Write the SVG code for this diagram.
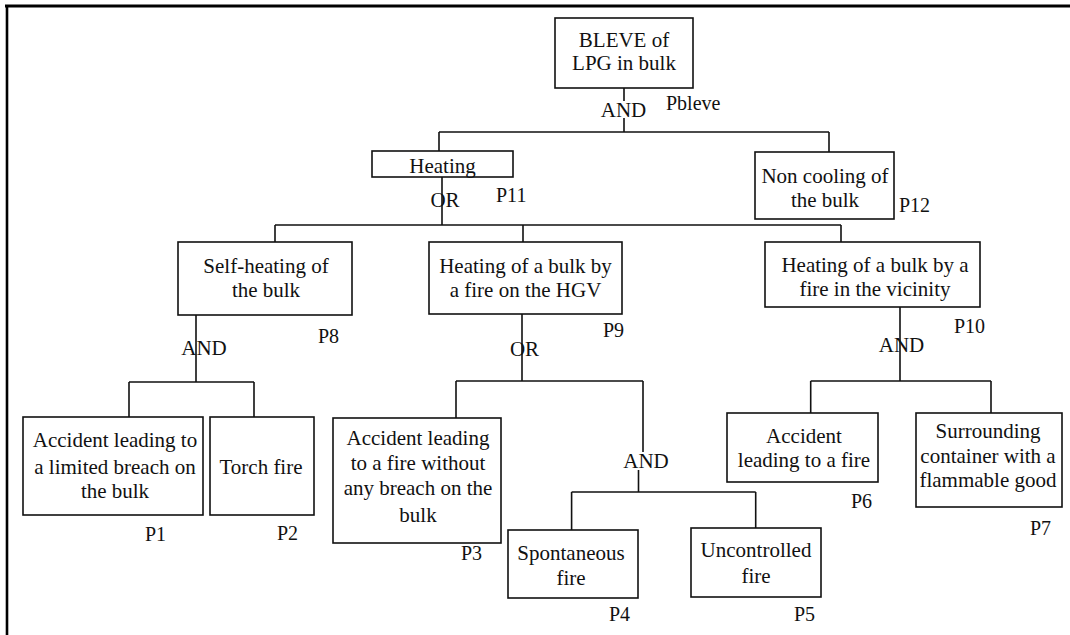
<svg xmlns="http://www.w3.org/2000/svg" width="1070" height="635" viewBox="0 0 1070 635">
<style>
.box{fill:#fff;stroke:#111;stroke-width:1.6}
.t{font-family:"Liberation Serif","Times New Roman",serif;font-size:21px;fill:#111;text-anchor:middle}
.p{font-family:"Liberation Serif","Times New Roman",serif;font-size:20px;fill:#111}
.g{font-family:"Liberation Serif","Times New Roman",serif;font-size:21px;fill:#111;text-anchor:middle}
.c{fill:none;stroke:#111;stroke-width:1.6}
.frame{fill:none;stroke:#000}
</style>
<rect width="1070" height="635" fill="#fff"/>
<path class="frame" d="M5 6 H1070" stroke-width="3"/>
<path class="frame" d="M7 5 V635" stroke-width="2.6"/>
<g id="connectors">
<path class="c" d="M624 88 V101 M624 118 V132 M439 132 H829 M439 132 V151 M829 132 V152"/>
<path class="c" d="M442 177 V225 M275 225 H841 M275 225 V242 M523 225 V242 M841 225 V242"/>
<path class="c" d="M196 315 V382 M129 382 H254 M129 382 V417 M254 382 V417"/>
<path class="c" d="M522 314 V381 M456 381 H643 M456 381 V418 M643 381 V452"/>
<path class="c" d="M638.5 470 V492 M571.6 492 H755.7 M571.6 492 V530 M755.7 492 V528"/>
<path class="c" d="M900 307 V381 M810.7 381 H991 M810.7 381 V413 M991 381 V413"/>
</g>
<g id="gates">
<text class="g" x="623.5" y="117">AND</text>
<text class="g" x="445" y="207">OR</text>
<text class="g" x="204" y="355">AND</text>
<text class="g" x="524.5" y="356">OR</text>
<text class="g" x="901.5" y="352">AND</text>
<text class="g" x="646" y="468">AND</text>
</g>
<g id="n_bleve">
<rect class="box" x="555" y="18" width="138" height="70"/>
<text class="t" x="624" y="47">BLEVE of</text>
<text class="t" x="624" y="70">LPG in bulk</text>
<text class="p" x="666" y="110">Pbleve</text>
</g>
<g id="n_heating">
<rect class="box" x="372" y="151" width="141" height="26"/>
<text class="t" x="442.5" y="173">Heating</text>
<text class="p" x="496" y="202">P11</text>
</g>
<g id="n_noncooling">
<rect class="box" x="755" y="152" width="139" height="67"/>
<text class="t" x="825" y="183">Non cooling of</text>
<text class="t" x="825" y="207">the bulk</text>
<text class="p" x="899" y="212">P12</text>
</g>
<g id="n_selfheating">
<rect class="box" x="178" y="242" width="174" height="73"/>
<text class="t" x="266" y="273">Self-heating of</text>
<text class="t" x="266" y="297">the bulk</text>
<text class="p" x="318" y="343">P8</text>
</g>
<g id="n_hgv">
<rect class="box" x="429" y="242" width="193" height="72"/>
<text class="t" x="525.5" y="273">Heating of a bulk by</text>
<text class="t" x="525.5" y="297">a fire on the HGV</text>
<text class="p" x="603" y="337">P9</text>
</g>
<g id="n_vicinity">
<rect class="box" x="765" y="242" width="215" height="65"/>
<text class="t" x="875" y="272">Heating of a bulk by a</text>
<text class="t" x="875" y="296">fire in the vicinity</text>
<text class="p" x="954" y="333">P10</text>
</g>
<g id="n_p1">
<rect class="box" x="23" y="417" width="180" height="98"/>
<text class="t" x="115" y="447">Accident leading to</text>
<text class="t" x="115" y="474">a limited breach on</text>
<text class="t" x="115" y="498">the bulk</text>
<text class="p" x="145" y="541">P1</text>
</g>
<g id="n_p2">
<rect class="box" x="210" y="417" width="104" height="98"/>
<text class="t" x="261" y="474">Torch fire</text>
<text class="p" x="277" y="540">P2</text>
</g>
<g id="n_p3">
<rect class="box" x="333" y="418" width="168" height="125"/>
<text class="t" x="418" y="445">Accident leading</text>
<text class="t" x="418" y="470">to a fire without</text>
<text class="t" x="418" y="495">any breach on the</text>
<text class="t" x="418" y="522">bulk</text>
<text class="p" x="461" y="560">P3</text>
</g>
<g id="n_p4">
<rect class="box" x="508" y="530" width="130" height="68"/>
<text class="t" x="571" y="560">Spontaneous</text>
<text class="t" x="571" y="585">fire</text>
<text class="p" x="609" y="621">P4</text>
</g>
<g id="n_p5">
<rect class="box" x="691" y="528" width="130" height="69"/>
<text class="t" x="756" y="557">Uncontrolled</text>
<text class="t" x="756" y="583">fire</text>
<text class="p" x="794" y="621">P5</text>
</g>
<g id="n_p6">
<rect class="box" x="727" y="413" width="151" height="69"/>
<text class="t" x="804" y="443">Accident</text>
<text class="t" x="804" y="467">leading to a fire</text>
<text class="p" x="851" y="508">P6</text>
</g>
<g id="n_p7">
<rect class="box" x="916" y="413" width="146" height="94"/>
<text class="t" x="988" y="438">Surrounding</text>
<text class="t" x="988" y="463">container with a</text>
<text class="t" x="988" y="487">flammable good</text>
<text class="p" x="1030" y="535">P7</text>
</g>
</svg>
